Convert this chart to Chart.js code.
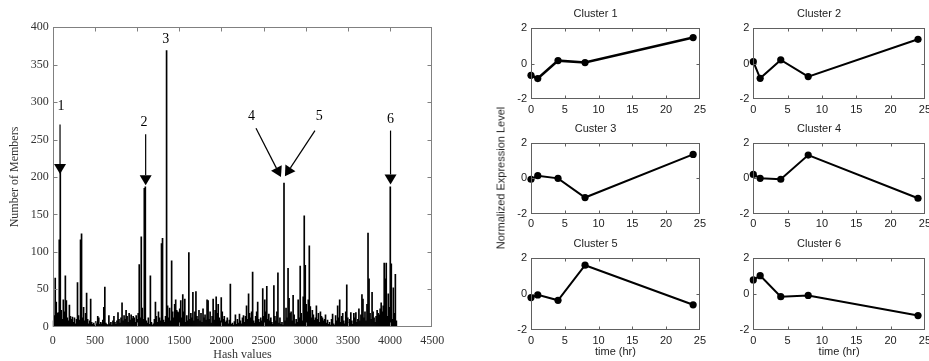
<!DOCTYPE html>
<html><head><meta charset="utf-8">
<script src="https://cdn.jsdelivr.net/npm/chart.js@4/dist/chart.umd.min.js"></script>
<style>
html,body{margin:0;padding:0;background:#fff;width:929px;height:361px;overflow:hidden;position:relative}
canvas{position:absolute;display:block}
#ylab{position:absolute;left:501px;top:178px;width:220px;text-align:center;white-space:nowrap;
  font:11px "Liberation Sans", Arial, sans-serif;color:#222;line-height:13px;
  transform:translate(-50%,-50%) rotate(-90deg);}
</style></head><body>
<canvas id="hist"></canvas>
<canvas id="c1"></canvas><canvas id="c2"></canvas><canvas id="c3"></canvas>
<canvas id="c4"></canvas><canvas id="c5"></canvas><canvas id="c6"></canvas>
<div id="ylab"></div>
<script>
// ---------------- data ----------------
const binWidth = 12; // hash units per histogram bin
const hashCounts = [
  8,15,65,33,18,19,116,210,22,10,36,20,68,35,12,8,29,14,10,13,
  6,12,4,10,59,15,9,116,124,12,26,8,18,45,10,4,8,37,6,3,
  5,2,7,4,14,12,3,6,4,9,26,53,5,3,2,15,4,6,2,8,
  14,6,3,8,19,10,5,12,32,8,15,10,22,14,6,18,9,16,11,14,
  12,6,15,10,18,83,12,120,25,10,185,187,8,5,12,3,68,6,2,4,
  10,33,14,6,20,12,8,111,118,9,6,14,369,28,12,25,8,88,20,12,
  30,36,22,20,19,24,35,12,43,20,37,6,15,8,99,10,18,12,46,8,
  20,47,14,10,22,8,18,6,24,12,16,9,36,35,10,20,5,14,37,9,
  22,40,18,30,12,8,39,20,10,14,6,8,12,4,9,57,3,5,2,7,
  16,3,10,5,17,8,4,12,15,6,14,28,10,44,18,12,20,73,8,5,
  14,20,33,10,6,12,8,51,14,36,20,54,10,17,8,12,6,3,55,14,
  8,20,72,5,12,3,6,2,192,8,25,12,78,38,18,20,8,42,16,4,
  10,6,36,12,81,18,8,40,148,82,30,20,36,108,27,12,22,16,9,12,
  28,10,18,6,20,14,12,8,10,16,5,9,3,6,2,10,17,4,2,15,
  8,28,12,36,6,14,18,8,4,20,56,12,6,10,19,8,3,18,12,19,
  6,10,24,8,16,43,37,12,20,8,30,125,64,18,10,46,20,12,6,14,
  22,18,16,24,32,20,28,85,64,85,14,44,26,187,84,10,52,18,70,8
];
const hashTicks = [0,500,1000,1500,2000,2500,3000,3500,4000,4500];
const memberTicks = [0,50,100,150,200,250,300,350,400];
// arrows in data units: label, tail [hash,count], tip [hash,count], label position
const arrowLabels = ['1','2','3','4','5','6'];
const arrowTails  = [[87,270],[1102,257],null,[2410,265],[3109,262],[4005,262]];
const arrowTips   = [[87,204],[1102,189],null,[2706,200],[2753,201],[4005,190]];
const labelSpots  = [[99,295],[1082,273],[1339,384],[2358,281],[3160,281],[4005,277]];

const times = [0,1,4,8,24];
const clusterTitles = ['Cluster 1','Cluster 2','Custer 3','Cluster 4','Cluster 5','Cluster 6'];
const cluster1 = [-0.65,-0.83,0.18,0.07,1.48];
const cluster2 = [0.12,-0.82,0.22,-0.72,1.38];
const cluster3 = [-0.07,0.13,-0.02,-1.1,1.33];
const cluster4 = [0.2,-0.02,-0.07,1.29,-1.14];
const cluster5 = [-0.2,-0.05,-0.35,1.6,-0.6];
const cluster6 = [0.78,1.02,-0.15,-0.08,-1.2];
const timeTicks = [0,5,10,15,20,25];
const levelTicks = [-2,0,2];
const levelAxisTitle = 'Normalized Expression Level';

document.getElementById('ylab').textContent = levelAxisTitle;

// ---------------- plugins ----------------
const framePlugin = {
  id: 'frame',
  afterDraw(chart, args, o) {
    const {ctx, chartArea: a} = chart;
    const xs = chart.scales.x, ys = chart.scales.y;
    const l = Math.round(a.left) + 0.5, r = Math.round(a.right) - 0.5;
    const t = Math.round(a.top) + 0.5, b = Math.round(a.bottom) - 0.5;
    ctx.save();
    ctx.strokeStyle = o.color; ctx.lineWidth = 1;
    ctx.strokeRect(l, t, r - l, b - t);
    ctx.beginPath();
    xs.ticks.forEach(tk => {
      const px = Math.round(xs.getPixelForValue(tk.value)) + 0.5;
      if (px <= l + 1 || px >= r - 1) return;
      ctx.moveTo(px, b); ctx.lineTo(px, b - o.len);
      ctx.moveTo(px, t); ctx.lineTo(px, t + o.len);
    });
    ys.ticks.forEach(tk => {
      const py = Math.round(ys.getPixelForValue(tk.value)) + 0.5;
      if (py <= t + 1 || py >= b - 1) return;
      ctx.moveTo(l, py); ctx.lineTo(l + o.len, py);
      ctx.moveTo(r, py); ctx.lineTo(r - o.len, py);
    });
    ctx.stroke(); ctx.restore();
  }
};

const arrowPlugin = {
  id: 'arrows',
  afterDraw(chart) {
    const {ctx} = chart;
    const xs = chart.scales.x, ys = chart.scales.y;
    ctx.save();
    ctx.strokeStyle = '#000'; ctx.fillStyle = '#000'; ctx.lineWidth = 1.2;
    arrowLabels.forEach((lab, i) => {
      const tail = arrowTails[i], tip = arrowTips[i];
      if (tail && tip) {
        const x1 = xs.getPixelForValue(tail[0]), y1 = ys.getPixelForValue(tail[1]);
        const x2 = xs.getPixelForValue(tip[0]), y2 = ys.getPixelForValue(tip[1]);
        const ang = Math.atan2(y2 - y1, x2 - x1);
        const hl = 10, hw = 6;
        const bx = x2 - hl * Math.cos(ang), by = y2 - hl * Math.sin(ang);
        ctx.beginPath(); ctx.moveTo(x1, y1); ctx.lineTo(bx, by); ctx.stroke();
        ctx.beginPath();
        ctx.moveTo(x2, y2);
        ctx.lineTo(bx + hw * Math.sin(ang), by - hw * Math.cos(ang));
        ctx.lineTo(bx - hw * Math.sin(ang), by + hw * Math.cos(ang));
        ctx.closePath(); ctx.fill();
      }
      const sp = labelSpots[i];
      ctx.font = '14px "Liberation Serif", serif';
      ctx.textAlign = 'center'; ctx.textBaseline = 'middle';
      ctx.fillText(lab, xs.getPixelForValue(sp[0]), ys.getPixelForValue(sp[1]));
    });
    ctx.restore();
  }
};

function place(canvas, left, top, w, h) {
  canvas.width = w; canvas.height = h;
  canvas.style.left = left + 'px'; canvas.style.top = top + 'px';
  canvas.style.width = w + 'px'; canvas.style.height = h + 'px';
}
const plain = v => String(v);

// ---------------- histogram ----------------
(function () {
  const box = {l: 52.7, r: 432.3, t: 27.3, b: 326.7};
  const W = 470, H = 361;
  const cv = document.getElementById('hist');
  place(cv, 0, 0, W, H);
  const serif = '"Liberation Serif", "Times New Roman", serif';
  new Chart(cv, {
    type: 'bar',
    data: {
      datasets: [{
        data: hashCounts.map((c, i) => ({x: i * binWidth + binWidth / 2, y: c})),
        backgroundColor: '#000', borderWidth: 0,
        barPercentage: 1, categoryPercentage: 1
      }]
    },
    options: {
      responsive: false, animation: false, devicePixelRatio: 1,
      layout: {padding: {left: 0, top: box.t, right: W - box.r, bottom: 0}},
      plugins: {legend: {display: false}, tooltip: {enabled: false}, frame: {color: '#808080', len: 4}},
      scales: {
        x: {
          type: 'linear', min: 0, max: 4500, offset: false,
          afterBuildTicks: s => { s.ticks = hashTicks.map(v => ({value: v})); },
          afterFit: s => { s.height = H - box.b; },
          grid: {display: false, drawTicks: false}, border: {display: false},
          ticks: {padding: 7, color: '#333', font: {family: serif, size: 12}, maxRotation: 0, autoSkip: false, callback: plain},
          title: {display: true, text: 'Hash values', color: '#333', font: {family: serif, size: 12, lineHeight: 1}, padding: {top: 0, bottom: 0}}
        },
        y: {
          min: 0, max: 400,
          afterBuildTicks: s => { s.ticks = memberTicks.map(v => ({value: v})); },
          afterFit: s => { s.width = box.l; },
          grid: {display: false, drawTicks: false}, border: {display: false},
          ticks: {padding: 4, color: '#333', font: {family: serif, size: 12}, autoSkip: false, callback: plain},
          title: {display: true, text: 'Number of Members', color: '#333', font: {family: serif, size: 12, lineHeight: 1.2}, padding: {top: 8, bottom: 0}}
        }
      }
    },
    plugins: [framePlugin, arrowPlugin]
  });
})();

// ---------------- small cluster charts ----------------
const colL = [531, 753.3], colR = [700, 925];
const rowT = [28.3, 142.5, 258], rowB = [99.3, 213.5, 330], titleC = [14, 129, 243.3];
const clusterSeries = [cluster1, cluster2, cluster3, cluster4, cluster5, cluster6];
const sans = '"Liberation Sans", Arial, sans-serif';

clusterSeries.forEach((vals, i) => {
  const col = i % 2, row = Math.floor(i / 2);
  const bl = colL[col], br = colR[col], bt = rowT[row], bb = rowB[row];
  const left = Math.floor(bl) - 40;
  const top = Math.round(titleC[row] - 6.6);
  const W = Math.ceil(br - left + 10);
  const H = row === 2 ? 361 - top : Math.ceil(bb - top + 18);
  const cv = document.getElementById('c' + (i + 1));
  place(cv, left, top, W, H);
  new Chart(cv, {
    type: 'line',
    data: {
      labels: times,
      datasets: [{
        data: times.map((t, k) => ({x: t, y: vals[k]})),
        borderColor: '#000', backgroundColor: '#000',
        borderWidth: i === 0 ? 2.6 : 2, pointRadius: 3.6, pointBorderWidth: 0,
        pointBackgroundColor: '#000', tension: 0, clip: false
      }]
    },
    options: {
      responsive: false, animation: false, devicePixelRatio: 1,
      layout: {padding: {left: 0, top: 0, right: W - (br - left), bottom: 0}},
      plugins: {
        legend: {display: false}, tooltip: {enabled: false},
        frame: {color: '#606060', len: 3},
        title: {display: true, text: clusterTitles[i], color: '#222',
          font: {family: sans, size: 11, weight: 'normal', lineHeight: 1.2},
          padding: {top: 0, bottom: bt - top - 13.2}}
      },
      scales: {
        x: {
          type: 'linear', min: 0, max: 25,
          afterBuildTicks: s => { s.ticks = timeTicks.map(v => ({value: v})); },
          afterFit: s => { s.height = H - (bb - top); },
          grid: {display: false, drawTicks: false}, border: {display: false},
          ticks: {padding: 4, color: '#222', font: {family: sans, size: 11}, maxRotation: 0, autoSkip: false, callback: plain},
          title: {display: row === 2, text: 'time (hr)', color: '#222', font: {family: sans, size: 11, lineHeight: 1.2}, padding: {top: 0, bottom: 2}}
        },
        y: {
          min: -2, max: 2,
          afterBuildTicks: s => { s.ticks = levelTicks.map(v => ({value: v})); },
          afterFit: s => { s.width = bl - left; },
          grid: {display: false, drawTicks: false}, border: {display: false},
          ticks: {padding: 4, color: '#222', font: {family: sans, size: 11}, autoSkip: false, callback: plain}
        }
      }
    },
    plugins: [framePlugin]
  });
});
</script>
</body></html>
